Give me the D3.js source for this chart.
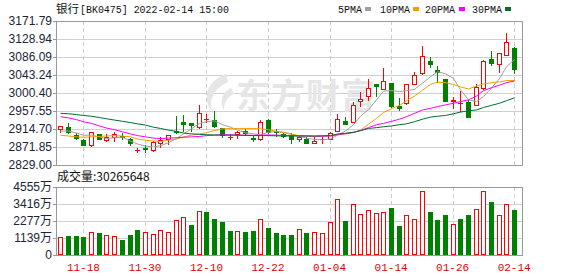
<!DOCTYPE html>
<html>
<head>
<meta charset="utf-8">
<script src="https://cdn.jsdelivr.net/npm/d3@7/dist/d3.min.js"></script>
<style>
body { margin: 0; background: #fff; }
svg { display: block; }
</style>
</head>
<body>
<div id="chart"></div>
<script>
// trading days, 2021-11-15 .. 2022-02-14
var dates = ["11-15","11-16","11-17","11-18","11-19","11-22","11-23","11-24","11-25","11-26",
  "11-29","11-30","12-01","12-02","12-03","12-06","12-07","12-08","12-09","12-10",
  "12-13","12-14","12-15","12-16","12-17","12-20","12-21","12-22","12-23","12-24",
  "12-27","12-28","12-29","12-30","12-31","01-04","01-05","01-06","01-07","01-10",
  "01-11","01-12","01-13","01-14","01-17","01-18","01-19","01-20","01-21","01-24",
  "01-25","01-26","01-27","01-28","02-07","02-08","02-09","02-10","02-11","02-14"];

var opens = [2913.9,2919.4,2900.4,2888.5,2877.4,2902.0,2888.5,2896.4,2898.8,2890.1,
  2865.0,2868.4,2863.9,2882.2,2890.9,2909.9,2932.1,2928.2,2918.6,2937.7,
  2936.9,2916.3,2895.0,2903.6,2909.9,2894.1,2890.1,2936.1,2909.9,2902.0,
  2900.4,2890.1,2891.7,2882.2,2890.3,2890.9,2910.7,2933.7,2930.5,2982.1,
  2992.4,3021.8,3010.7,3024.2,2970.2,2977.4,3022.6,3048.8,3077.4,3055.1,
  3033.7,2982.5,2976.2,2979.0,2971.0,3013.1,3081.3,3069.4,3090.1,3107.5];
var highs = [2922.6,2928.2,2906.0,2891.7,2908.3,2903.6,2903.6,2908.3,2904.4,2892.5,
  2870.3,2875.8,2885.3,2894.9,2899.6,2945.6,2947.2,2928.2,2971.8,2949.6,
  2958.3,2917.9,2902.0,2909.9,2913.9,2898.8,2936.1,2937.7,2914.7,2906.0,
  2906.0,2898.0,2894.9,2894.9,2896.4,2906.8,2949.6,2943.3,2979.7,3002.8,
  3032.9,3022.6,3059.1,3024.2,2989.3,3021.0,3049.6,3112.3,3086.9,3065.5,
  3033.7,2991.7,3005.2,2983.7,3021.0,3078.9,3100.4,3094.8,3143.2,3109.1];
var lows = [2906.7,2904.4,2890.1,2876.6,2875.0,2890.1,2886.9,2886.9,2890.1,2877.4,
  2860.7,2859.3,2863.1,2872.6,2879.0,2906.0,2909.1,2909.9,2918.0,2931.3,
  2918.6,2894.9,2890.1,2892.5,2900.4,2887.0,2889.3,2906.0,2898.8,2896.4,
  2882.2,2887.0,2880.5,2880.5,2882.2,2890.1,2909.1,2925.8,2930.5,2969.4,
  2983.7,2992.4,3009.9,2967.9,2959.9,2975.0,3022.6,3044.8,3063.1,3026.6,
  2981.3,2965.5,2957.5,2944.1,2971.0,3009.9,3067.0,3051.2,3090.1,3048.8];
var closes = [2921.0,2907.5,2893.3,2877.4,2906.8,2890.1,2895.6,2902.0,2896.4,2880.5,
  2865.5,2867.9,2884.5,2888.5,2899.6,2906.8,2927.4,2924.2,2952.0,2938.5,
  2921.8,2900.4,2895.6,2908.3,2904.4,2890.1,2930.5,2907.5,2906.8,2898.0,
  2890.1,2895.6,2881.4,2886.1,2890.9,2905.2,2937.7,2926.6,2971.0,2986.9,
  3013.1,3016.3,3028.9,2970.2,2964.7,3021.0,3043.2,3088.5,3070.2,3049.6,
  2981.3,2982.9,2976.6,2944.1,3015.5,3075.8,3071.0,3094.8,3121.0,3056.7];

// volume, 万
var volumes = [1200,1289,1289,1222,1533,1467,1333,1267,1000,1333,
  1667,1533,1400,1667,1533,2333,2533,2000,2933,2867,
  2400,2200,1600,1600,1533,1600,2400,1800,1467,1333,
  1333,1733,1467,1533,1467,2200,3733,2267,3400,2733,
  3000,2800,2867,3133,1933,2667,2400,4267,2867,2333,
  2667,2067,2400,2667,3067,4267,3533,2667,3400,3027];

var ma5 = [2910,2910,2905,2900,2900,2896,2892,2894,2895,2886,
  2879,2874,2872,2875,2882,2892,2903,2915,2928,2932,
  2934,2925,2919,2912,2906,2903,2901,2907,2909,2907,
  2903,2897,2893,2890,2889,2891,2900,2910,2925,2945,
  2961,2984,3005,3006,3004,3006,3009,3024,3039,3051,
  3046,3035,3008,2984,2980,2992,3012,3035,3063,3080];
var ma10 = [2900,2898,2896,2895,2896,2897,2898,2899,2898,2896,
  2891,2888,2886,2885,2888,2891,2896,2900,2903,2906,
  2911,2915,2916,2916,2916,2916,2915,2913,2909,2906,
  2902,2899,2898,2897,2898,2899,2901,2903,2906,2912,
  2926,2940,2954,2963,2971,2982,2993,3007,3021,3026,
  3025,3021,3015,3010,3017,3022,3025,3027,3030,3030];
var ma20 = [2944,2941,2937,2932,2928,2922,2917,2913,2908,2903,
  2899,2896,2893,2892,2893,2894,2895,2896,2897,2899,
  2900,2901,2901,2900,2900,2899.5,2900,2900.5,2900,2899.5,
  2899,2898.5,2898,2897.5,2897.5,2898,2901,2904,2907,2911,
  2918,2925,2928,2933,2938,2944,2952,2960,2964,2968,
  2972,2976,2980,2984,2993,3006,3013,3019,3025,3029];
var ma30 = [2952,2951,2949,2947,2945,2942,2939,2936,2933,2930,
  2927,2924,2919,2916,2912,2909,2905,2903,2902,2901,
  2900.5,2900,2900,2900,2899.5,2899,2899,2899,2898.5,2898,
  2898,2898,2898,2898,2898.5,2899,2902.8,2904.4,2906.8,2910.7,
  2916,2918,2920,2922,2925,2927,2932,2938,2943,2945,
  2947,2951,2955,2958,2960,2966,2971,2976,2982,2989];

var priceTicks = [2829.00,2871.85,2914.70,2957.55,3000.40,3043.24,3086.09,3128.94,3171.79];
var volTicks = [0,1139,2277,3416,4555];
var xLabels = ["11-18","11-30","12-10","12-22","01-04","01-14","01-26","02-14"];
var maNames = ["5PMA","10PMA","20PMA","30PMA"];
var maColors = ["#a0a0a0","#f0a000","#ff00ff","#006d31"];

var red = "#ff0000", green = "#008000";
var width = 578, height = 276;
var pTop = 21, pBot = 165, vTop = 187, vBot = 255;
var left = 56, right = 522;

var svg = d3.select("#chart").append("svg")
    .attr("width", width)
    .attr("height", height);

var x = d3.scaleBand().domain(dates).range([56.5, 518]);
var cx = function(d) { return Math.round(x(d) + x.bandwidth() / 2); };
var y = d3.scaleLinear().domain([2829, 3171.79]).range([pBot, pTop]);
var yv = d3.scaleLinear().domain([0, 4555]).range([vBot, vTop]);

// --- grid ---
var grid = svg.append("g");
grid.selectAll(".hp").data(priceTicks.slice(1, -1)).enter().append("line")
    .attr("x1", left).attr("x2", right)
    .attr("y1", d => Math.round(y(d)) + 0.5).attr("y2", d => Math.round(y(d)) + 0.5)
    .attr("stroke", "#d0d0d0");
grid.selectAll(".hv").data(volTicks.slice(1, -1)).enter().append("line")
    .attr("x1", left).attr("x2", right)
    .attr("y1", d => Math.round(yv(d)) + 0.5).attr("y2", d => Math.round(yv(d)) + 0.5)
    .attr("stroke", "#d0d0d0");
[[pTop, pBot], [vTop, vBot]].forEach(function(r) {
  grid.selectAll(null).data(xLabels).enter().append("line")
      .attr("x1", d => cx(d) + 0.5).attr("x2", d => cx(d) + 0.5)
      .attr("y1", r[0]).attr("y2", r[1])
      .attr("stroke", "#cccccc")
      .attr("stroke-dasharray", "4,3");
});

// --- watermark ---
var wm = svg.append("g").attr("fill", "#e6e6e6");
wm.append("path")
    .attr("d", "M226,74 C208,80 201,98 212,111 C209,99 214,88 228,82 Z M231,88 C222,92 219,102 224,110 C224,103 227,97 234,94 Z");
wm.append("text")
    .attr("x", 236).attr("y", 108)
    .attr("font-family", "Noto Sans CJK SC")
    .attr("font-weight", "bold")
    .attr("font-size", 34)
    .attr("letter-spacing", 1)
    .text("东方财富");

// --- borders ---
svg.append("rect").attr("x", left + 0.5).attr("y", pTop + 0.5)
    .attr("width", right - left).attr("height", pBot - pTop)
    .attr("fill", "none").attr("stroke", "#999");
svg.append("rect").attr("x", left + 0.5).attr("y", vTop + 0.5)
    .attr("width", right - left).attr("height", vBot - vTop)
    .attr("fill", "none").attr("stroke", "#999");

// --- axes ---
var yAxis = svg.append("g")
    .attr("transform", "translate(" + left + ",0)")
    .call(d3.axisLeft(y).tickValues(priceTicks).tickSize(3).tickPadding(1)
      .tickFormat(d => d.toFixed(2)));
var vAxis = svg.append("g")
    .attr("transform", "translate(" + left + ",0)")
    .call(d3.axisLeft(yv).tickValues(volTicks).tickSize(3).tickPadding(1)
      .tickFormat(d => d === 0 ? "0" : d + "万"));
[yAxis, vAxis].forEach(function(g) {
  g.select(".domain").remove();
  g.selectAll(".tick line").attr("stroke", "#999");
  g.selectAll("text")
      .attr("fill", "#1c2436")
      .attr("font-size", 12)
      .attr("font-family", "'Liberation Sans', 'Noto Sans CJK SC', sans-serif");
});

var xAxis = svg.append("g")
    .attr("transform", "translate(0," + vBot + ")")
    .call(d3.axisBottom(x).tickValues(xLabels).tickSize(0).tickPadding(8));
xAxis.select(".domain").remove();
xAxis.selectAll("text")
    .attr("fill", "#e60000")
    .attr("font-size", 11)
    .attr("font-family", "'Liberation Mono', monospace");

// --- candles ---
var idx = d3.range(dates.length);
var candles = svg.append("g").selectAll("g").data(idx).enter().append("g");
candles.each(function(i) {
  var g = d3.select(this);
  var c = cx(dates[i]);
  var up = closes[i] >= opens[i];
  var col = up ? red : green;
  var top = Math.round(y(Math.max(opens[i], closes[i])));
  var bot = Math.round(y(Math.min(opens[i], closes[i])));
  g.append("line")
      .attr("x1", c + 0.5).attr("x2", c + 0.5)
      .attr("y1", Math.round(y(highs[i]))).attr("y2", Math.round(y(lows[i])) + 1)
      .attr("stroke", col);
  if (bot - top < 1) {
    g.append("line")
        .attr("x1", c - 2).attr("x2", c + 3)
        .attr("y1", top + 0.5).attr("y2", top + 0.5)
        .attr("stroke", col);
  } else {
    g.append("rect")
        .attr("x", c - 1.5).attr("y", top + 0.5)
        .attr("width", 4).attr("height", bot - top)
        .attr("fill", up ? "#fff" : green)
        .attr("stroke", col);
  }
});

// --- moving averages ---
[ma5, ma10, ma20, ma30].forEach(function(ma, k) {
  var line = d3.line()
      .x((d, i) => cx(dates[i]) + 0.5)
      .y(d => y(d));
  svg.append("path")
      .datum(ma)
      .attr("d", line)
      .attr("fill", "none")
      .attr("stroke", maColors[k])
      .attr("stroke-width", 1);
});

// --- volume bars ---
svg.append("g").selectAll("rect").data(idx).enter().append("rect")
    .attr("x", i => cx(dates[i]) - 1.5)
    .attr("y", i => Math.round(yv(volumes[i])) + 0.5)
    .attr("width", 4)
    .attr("height", i => vBot - 1 - Math.round(yv(volumes[i])))
    .attr("fill", function(i) {
      var up = i === 0 ? closes[i] >= opens[i] : closes[i] >= closes[i - 1];
      return up ? "#fff" : green;
    })
    .attr("stroke", function(i) {
      var up = i === 0 ? closes[i] >= opens[i] : closes[i] >= closes[i - 1];
      return up ? red : green;
    });

// --- titles and legend ---
svg.append("text").attr("x", 56).attr("y", 13)
    .attr("font-family", "'Noto Sans CJK SC'").attr("font-size", 11.5)
    .attr("fill", "#111").text("银行");
svg.append("text").attr("x", 80).attr("y", 13)
    .attr("font-family", "'Liberation Mono', monospace").attr("font-size", 11)
    .attr("textLength", 149).attr("lengthAdjust", "spacingAndGlyphs")
    .attr("fill", "#111").text("[BK0475] 2022-02-14 15:00");

var legendX = [338, 380, 425, 472];
var swatchX = [365, 413, 459, 505];
maNames.forEach(function(name, k) {
  svg.append("text").attr("x", legendX[k]).attr("y", 12.5)
      .attr("font-family", "'Liberation Mono', monospace").attr("font-size", 11)
      .attr("textLength", name.length * 6).attr("lengthAdjust", "spacingAndGlyphs")
      .attr("fill", "#111").text(name);
  svg.append("rect").attr("x", swatchX[k]).attr("y", 7)
      .attr("width", 6).attr("height", 4)
      .attr("fill", maColors[k]);
});

svg.append("text").attr("x", 57).attr("y", 181)
    .attr("font-family", "'Noto Sans CJK SC'").attr("font-size", 12)
    .attr("fill", "#111").text("成交量:30265648");
</script>
</body>
</html>
